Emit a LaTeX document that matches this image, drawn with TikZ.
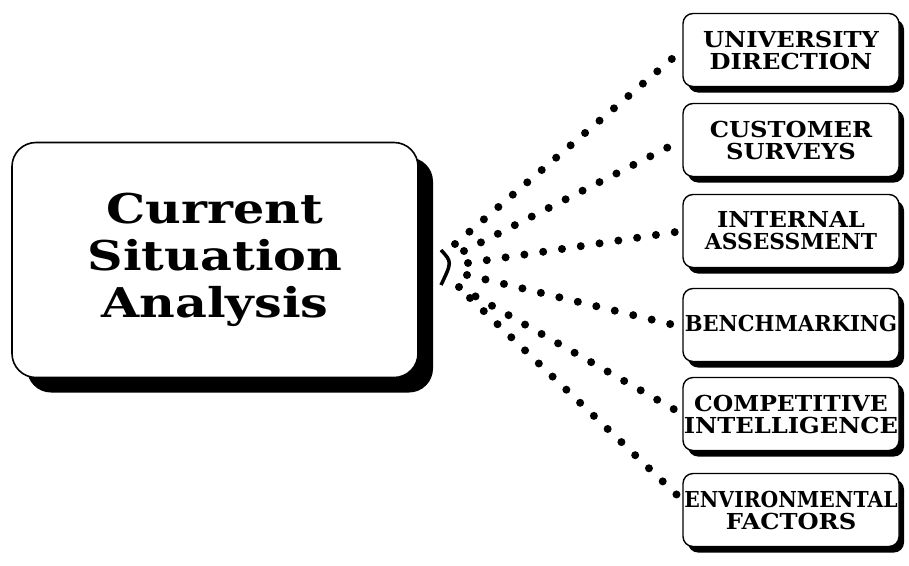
\documentclass[tikz,border=0pt]{standalone}
\usepackage{fontspec}
\setmainfont{DejaVu Serif}
\newfontfamily\widefont[FakeStretch=1.2]{DejaVu Serif}
\newfontfamily\midfont[FakeStretch=1.1]{DejaVu Serif}
\usetikzlibrary{shadows,calc}
\newcommand\squeeze[2]{\scalebox{#1}[1]{#2}}
\tikzset{
  mainbox/.style={draw=black, line width=1.6pt, fill=white, rounded corners=24pt,
    minimum width=406pt, minimum height=235pt, align=center, inner sep=0pt,
    font=\widefont\bfseries\fontsize{41}{47}\selectfont,
    drop shadow={shadow xshift=15pt, shadow yshift=-15pt, fill=black, opacity=1}},
  smallbox/.style={draw=black, line width=1.4pt, fill=white, rounded corners=10pt,
    minimum width=216pt, minimum height=73pt, align=center, inner sep=0pt,
    font=\midfont\bfseries\fontsize{22}{22}\selectfont,
    drop shadow={shadow xshift=5pt, shadow yshift=-6pt, fill=black, opacity=1}},
  dotline/.style={line width=8pt, line cap=round, dash pattern=on 0pt off 19pt}
}
\begin{document}
\begin{tikzpicture}[x=1pt, y=-1pt]
\useasboundingbox (0,0) rectangle (909,565);
\node[mainbox] (m) at (215,260) {Current\\Situation\\Analysis};
\node[smallbox] (b1) at (791,50) {UNIVERSITY\\DIRECTION};
\node[smallbox] (b2) at (791,140) {CUSTOMER\\SURVEYS};
\node[smallbox] (b3) at (791,231) {INTERNAL\\\squeeze{0.9}{ASSESSMENT}};
\node[smallbox] (b4) at (791,325) {\raisebox{4pt}{\squeeze{0.87}{BENCHMARKING}}};
\node[smallbox] (b5) at (791,414) {\squeeze{0.97}{COMPETITIVE}\\\makebox[200pt][c]{\squeeze{1.0}{INTELLIGENCE}}};
\node[smallbox] (b6) at (791,510) {\squeeze{0.84}{ENVIRONMENTAL}\\FACTORS};
\coordinate (s1) at (455,244);
\coordinate (s2) at (464,251);
\coordinate (s3) at (468,263);
\coordinate (s4) at (467,275);
\coordinate (s5) at (459,287);
\coordinate (s6) at (470,298);
\draw[dotline] (s1) -- (b1.west);
\draw[dotline] (s2) -- (b2.west);
\draw[dotline] (s3) -- (b3.west);
\draw[dotline] (s4) -- ([yshift=-2pt]b4.west);
\draw[dotline] (s5) -- (b5.west);
\draw[dotline] (s6) -- ([yshift=10pt]b6.west);
\draw[line width=3.5pt] (441,250) .. controls (452,262) .. (441,285);
\end{tikzpicture}
\end{document}
